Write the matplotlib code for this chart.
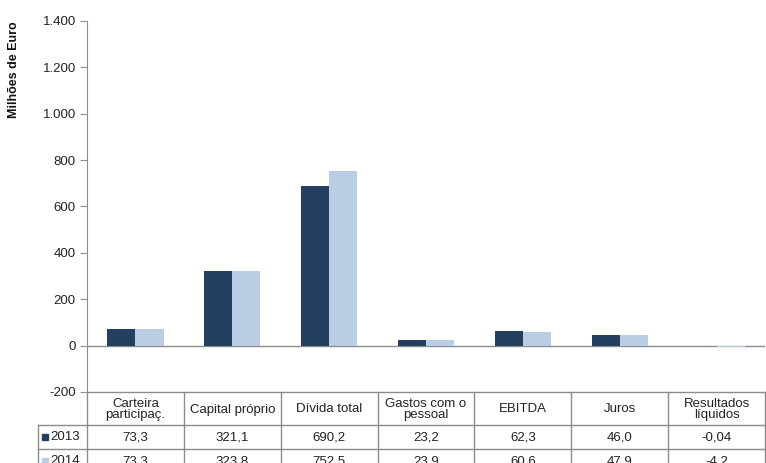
import matplotlib.pyplot as plt
from matplotlib.lines import Line2D
from matplotlib.patches import Rectangle
from matplotlib.ticker import FuncFormatter

plt.rcParams['font.family'] = ['Liberation Sans', 'DejaVu Sans']

categories = ['Carteira\nparticipaç.', 'Capital próprio', 'Dívida total',
              'Gastos com o\npessoal', 'EBITDA', 'Juros', 'Resultados\nlíquidos']
years = ['2013', '2014']
values_2013 = [73.3, 321.1, 690.2, 23.2, 62.3, 46.0, -0.04]
values_2014 = [73.3, 323.8, 752.5, 23.9, 60.6, 47.9, -4.2]
colors = ['#243F60', '#B9CDE5']
yticks = [-200, 0, 200, 400, 600, 800, 1000, 1200, 1400]

W, H = 766, 463
fig = plt.figure(figsize=(W / 100, H / 100), dpi=100)


def px(x):
    return x / W


def py(y):
    return 1 - y / H


ax_l, ax_r, ax_t, ax_b = 87, 765, 21, 392
ax = fig.add_axes([px(ax_l), py(ax_b), px(ax_r - ax_l), (ax_b - ax_t) / H])

n = len(categories)
xs = [i + 0.5 for i in range(n)]
w = 0.29
ax.bar([x - w / 2 for x in xs], values_2013, w, color=colors[0], zorder=3)
ax.bar([x + w / 2 for x in xs], values_2014, w, color=colors[1], zorder=3)
ax.axhline(0, color='#8c8c8c', lw=1, zorder=2)

ax.set_xlim(0, n)
ax.set_ylim(-200, 1400)
ax.set_yticks(yticks)
ax.yaxis.set_major_formatter(FuncFormatter(lambda v, p: f'{int(v):,}'.replace(',', '.')))
ax.set_xticks([])
for s in ['top', 'right', 'bottom']:
    ax.spines[s].set_visible(False)
ax.spines['left'].set_color('#8c8c8c')
ax.tick_params(axis='y', colors='#8c8c8c', labelcolor='#222222', labelsize=9.5, length=5, pad=3)

fig.text(px(14), py(70), 'Milhões de Euro', rotation=90, ha='center', va='center',
         fontsize=9, fontweight='bold', color='#111111')

# data table under the axes
gc = '#8c8c8c'
col_w = (ax_r - ax_l) / n
row_y = [392, 425, 449, 480]
left_lbl = 38
fs = 9.5


def hline(y, x0, x1):
    fig.add_artist(Line2D([px(x0), px(x1)], [py(y), py(y)], color=gc, lw=1))


def vline(x, y0, y1):
    fig.add_artist(Line2D([px(x), px(x)], [py(y0), py(y1)], color=gc, lw=1))


hline(row_y[0], ax_l, ax_r)
hline(row_y[1], left_lbl, ax_r)
hline(row_y[2], left_lbl, ax_r)
vline(left_lbl, row_y[1], row_y[3])
for i in range(n + 1):
    vline(ax_l + i * col_w, row_y[0], row_y[3])

for i, c in enumerate(categories):
    fig.text(px(ax_l + (i + 0.5) * col_w), py((row_y[0] + row_y[1]) / 2 + 1), c,
             ha='center', va='center', fontsize=fs, color='#222222', linespacing=0.95)

for r, (yr, vals) in enumerate(zip(years, [values_2013, values_2014])):
    yc = (row_y[r + 1] + row_y[r + 2]) / 2 if r == 0 else row_y[2] + 12
    sq = 6
    fig.add_artist(Rectangle((px(42), py(yc + sq / 2)), px(sq), sq / H, color=colors[r],
                             transform=fig.transFigure))
    fig.text(px(50), py(yc), yr, ha='left', va='center', fontsize=fs, color='#222222')
    for i, v in enumerate(vals):
        fig.text(px(ax_l + (i + 0.5) * col_w), py(yc), str(v).replace('.', ','),
                 ha='center', va='center', fontsize=fs, color='#222222')

fig.savefig('out.png', dpi=100)
